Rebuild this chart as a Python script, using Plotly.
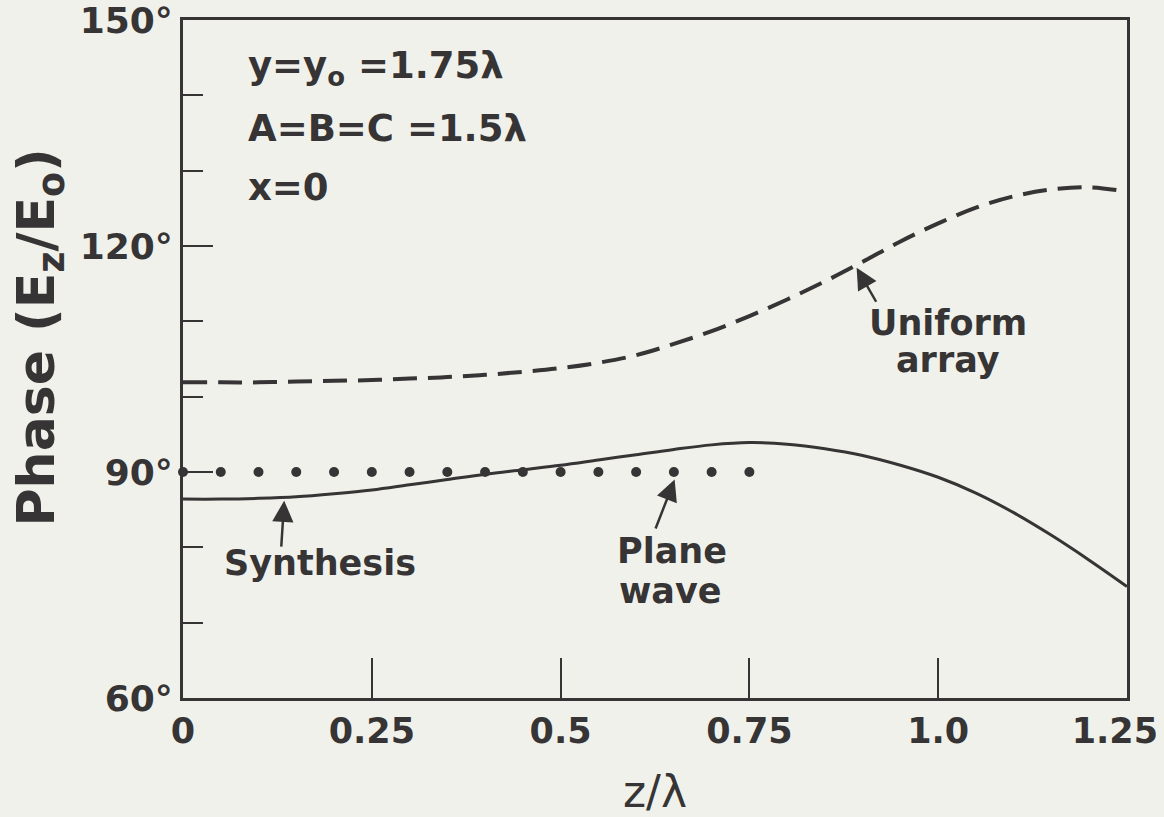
import plotly.graph_objects as go

# ---------------- data ----------------
z_curve = [0.0, 0.05, 0.1, 0.15, 0.2, 0.25, 0.3, 0.35, 0.4, 0.45, 0.5, 0.55, 0.6,
           0.65, 0.7, 0.75, 0.8, 0.85, 0.9, 0.95, 1.0, 1.05, 1.1, 1.15, 1.2, 1.25]
synthesis = [86.4, 86.4, 86.5, 86.7, 87.1, 87.6, 88.3, 89.0, 89.7, 90.3, 90.9, 91.6, 92.3,
             93.0, 93.6, 93.9, 93.7, 93.1, 92.2, 90.9, 89.3, 87.2, 84.6, 81.6, 78.3, 74.8]
uniform_array = [101.9, 101.9, 101.9, 102.0, 102.1, 102.2, 102.4, 102.6, 102.9, 103.3, 103.8,
                 104.5, 105.5, 107.0, 108.7, 110.7, 112.9, 115.3, 117.9, 120.6, 123.0, 125.1,
                 126.6, 127.5, 127.8, 127.2]
z_plane = [0.0, 0.05, 0.1, 0.15, 0.2, 0.25, 0.3, 0.35, 0.4, 0.45, 0.5, 0.55, 0.6, 0.65, 0.7, 0.75]
plane_wave = [90] * len(z_plane)

x_tickvals = [0, 0.25, 0.5, 0.75, 1.0, 1.25]
x_ticktext = ["0", "0.25", "0.5", "0.75", "1.0", "1.25\u00a0\u00a0"]
y_tickvals = [60, 90, 120, 150]
y_ticktext = ["60°", "90°", "120°", "150°"]

INK = "#363434"
BG = "#f1f1eb"
FONT = "DejaVu Sans"

fig = go.Figure()
fig.add_trace(go.Scatter(x=z_curve, y=uniform_array, mode="lines",
                         line=dict(color=INK, width=4, dash="24px,11px", shape="spline"),
                         showlegend=False, hoverinfo="skip"))
fig.add_trace(go.Scatter(x=z_curve, y=synthesis, mode="lines",
                         line=dict(color=INK, width=3, shape="spline"),
                         showlegend=False, hoverinfo="skip"))
fig.add_trace(go.Scatter(x=z_plane, y=plane_wave, mode="markers",
                         marker=dict(color=INK, size=10),
                         showlegend=False, hoverinfo="skip", cliponaxis=False))

def txt(x, y, s, size=35, xanchor="center"):
    fig.add_annotation(x=x, y=y, text=s, showarrow=False, xanchor=xanchor,
                       yanchor="middle",
                       font=dict(family=FONT, size=size, color=INK, weight="bold"))

txt(0.0834, 143.6, "y=y<sub>o</sub> =1.75λ", 37, "left")
txt(0.0834, 135.6, "A=B=C =1.5λ", 37, "left")
txt(0.0834, 127.7, "x=0", 37, "left")
txt(0.1814, 77.9, "Synthesis")
txt(0.6475, 79.5, "Plane")
txt(0.645, 74.2, "wave")
txt(1.013, 109.8, "Uniform")
txt(1.013, 104.9, "array")

def arrow(x, y, ax, ay):
    fig.add_annotation(x=x, y=y, ax=ax, ay=ay, axref="x", ayref="y", text="",
                       showarrow=True, arrowhead=2, arrowsize=1.7, arrowwidth=2.5,
                       arrowcolor=INK)

arrow(0.134, 86.2, 0.130, 79.9)
arrow(0.651, 89.0, 0.625, 82.3)
arrow(0.892, 117.1, 0.919, 112.4)

# axis titles as text placed like the reference
fig.add_annotation(xref="paper", yref="paper", x=-0.152, y=0.531,
                   text="Phase (E<sub>z</sub>/E<sub>o</sub>)", textangle=-90,
                   showarrow=False, xanchor="center", yanchor="middle",
                   font=dict(family=FONT, size=52, color=INK, weight="bold"))
fig.add_annotation(xref="paper", yref="paper", x=0.5, y=-0.138,
                   text="z/λ", showarrow=False, xanchor="center", yanchor="middle",
                   font=dict(family=FONT, size=44, color=INK))

fig.update_layout(
    width=1164, height=817,
    margin=dict(l=183, r=37, t=20, b=119),
    paper_bgcolor=BG, plot_bgcolor=BG,
    font=dict(family=FONT, color=INK),
    xaxis=dict(range=[0, 1.25], tickvals=x_tickvals, ticktext=x_ticktext,
               ticks="inside", ticklen=40, tickwidth=2, tickcolor=INK,
               showline=True, linecolor=INK, linewidth=3, mirror=True,
               showgrid=False, zeroline=False, ticklabeloverflow="allow",
               automargin=False,
               tickfont=dict(family=FONT, size=35, color=INK, weight="bold")),
    yaxis=dict(range=[60, 150], tickvals=y_tickvals, ticktext=y_ticktext,
               ticks="inside", ticklen=30, tickwidth=2, tickcolor=INK,
               minor=dict(ticks="inside", ticklen=20, tickwidth=2, tickcolor=INK, dtick=10),
               showline=True, linecolor=INK, linewidth=3, mirror=True,
               showgrid=False, zeroline=False, ticklabeloverflow="allow",
               automargin=False,
               tickfont=dict(family=FONT, size=36, color=INK, weight="bold")),
)

fig.write_html("out.html")
